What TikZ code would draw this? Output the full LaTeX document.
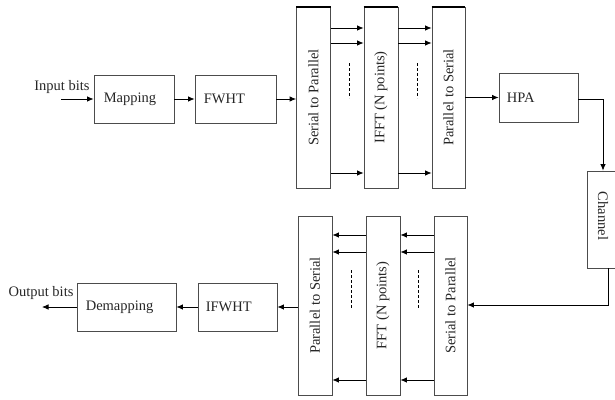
\documentclass[tikz,border=0pt]{standalone}
\usepackage{fontspec}
\setmainfont{Liberation Serif}
\usetikzlibrary{arrows.meta}
\begin{document}
\begin{tikzpicture}[x=1pt,y=-1pt,
  blk/.style={draw=black!70,line width=0.8pt},
  lbl/.style={font=\fontsize{14.5}{16}\selectfont,inner sep=0pt,text=black!85},
  vlbl/.style={font=\fontsize{14.5}{16}\selectfont,inner sep=0pt,rotate=90,text=black!85},
  arr/.style={-{Latex[length=6.5pt,width=5.5pt]},line width=0.8pt},
  dots/.style={dash pattern=on 2.5pt off 2.5pt,line width=0.9pt},
  topedge/.style={line width=2.2pt}]
\useasboundingbox (0,0) rectangle (615,399);
% top row
\node[blk,minimum width=80pt,minimum height=48pt] (map) at (134,99) {};
\node[lbl,anchor=west] at (map.west) [xshift=10pt] {Mapping};
\node[blk,minimum width=81pt,minimum height=48pt] (fwht) at (235.5,99) {};
\node[lbl,anchor=west] at (fwht.west) [xshift=9pt] {FWHT};
\node[blk,minimum width=34pt,minimum height=181pt] (sp1) at (313.5,97.5) {};
\node[vlbl] at (sp1) {Serial to Parallel};
\node[blk,minimum width=34pt,minimum height=181pt] (ifft) at (381,97.5) {};
\node[vlbl] at (ifft) {IFFT (N points)};
\node[blk,minimum width=33pt,minimum height=181pt] (ps1) at (448.5,97.5) {};
\node[vlbl] at (ps1) {Parallel to Serial};
\draw[topedge] (sp1.north west) -- (sp1.north east);
\draw[topedge] (ifft.north west) -- (ifft.north east);
\draw[topedge] (ps1.north west) -- (ps1.north east);
\node[blk,minimum width=79pt,minimum height=49pt] (hpa) at (538.5,97.5) {};
\node[lbl,anchor=west] at (hpa.west) [xshift=8pt] {HPA};
\node[blk,minimum width=28pt,minimum height=97pt] (ch) at (601,219.5) {};
\node[lbl,rotate=-90] at (603,216) {Channel};
% inputs
\coordinate (in) at (61,99);
\node[lbl] (inl) at (62,87) {Input bits};
\draw[arr] (in) -- (map.west);
\draw[arr] (map.east) -- (fwht.west);
\draw[arr] (fwht.east) -- (fwht.east -| sp1.west);
\foreach \yy in {28,43,173} {
  \draw[arr] (sp1.east |- 0,\yy) -- (ifft.west |- 0,\yy);
  \draw[arr] (ifft.east |- 0,\yy) -- (ps1.west |- 0,\yy);
}
\coordinate (d1a) at (349,63); \coordinate (d1b) at (349,98);
\coordinate (d2a) at (417,63); \coordinate (d2b) at (417,98);
\draw[dots] (d1a) -- (d1b);
\draw[dots] (d2a) -- (d2b);
\draw[arr] (ps1.east |- hpa.west) -- (hpa.west);
\coordinate (c1) at (603,99);
\draw[arr] (hpa.east |- c1) -- (c1) -- (ch.north -| c1);
% bottom row
\node[blk,minimum width=33pt,minimum height=179pt] (sp2) at (450.5,305.5) {};
\node[vlbl] at (sp2) {Serial to Parallel};
\node[blk,minimum width=34pt,minimum height=179pt] (fft) at (383,305.5) {};
\node[vlbl] at (fft) {FFT (N points)};
\node[blk,minimum width=34pt,minimum height=179pt] (ps2) at (315,305.5) {};
\node[vlbl] at (ps2) {Parallel to Serial};
\node[blk,minimum width=79pt,minimum height=48pt] (ifwht) at (237.5,307) {};
\node[lbl,anchor=west] at (ifwht.west) [xshift=8pt] {IFWHT};
\node[blk,minimum width=99pt,minimum height=48pt] (demap) at (126.5,307) {};
\node[lbl,anchor=west] at (demap.west) [xshift=9pt] {Demapping};
\coordinate (c2) at (608,305);
\draw[arr] (ch.south -| c2) -- (c2) -- (sp2.east |- c2);
\foreach \yy in {235,252,380} {
  \draw[arr] (sp2.west |- 0,\yy) -- (fft.east |- 0,\yy);
  \draw[arr] (fft.west |- 0,\yy) -- (ps2.east |- 0,\yy);
}
\coordinate (d3a) at (351,270); \coordinate (d3b) at (351,308);
\coordinate (d4a) at (418,270); \coordinate (d4b) at (418,308);
\draw[dots] (d3a) -- (d3b);
\draw[dots] (d4a) -- (d4b);
\draw[arr] (ps2.west |- ifwht.east) -- (ifwht.east);
\draw[arr] (ifwht.west) -- (demap.east);
\coordinate (out) at (42,307);
\draw[arr] (demap.west) -- (out);
\node[lbl] (outl) at (41,293) {Output bits};
\end{tikzpicture}
\end{document}
